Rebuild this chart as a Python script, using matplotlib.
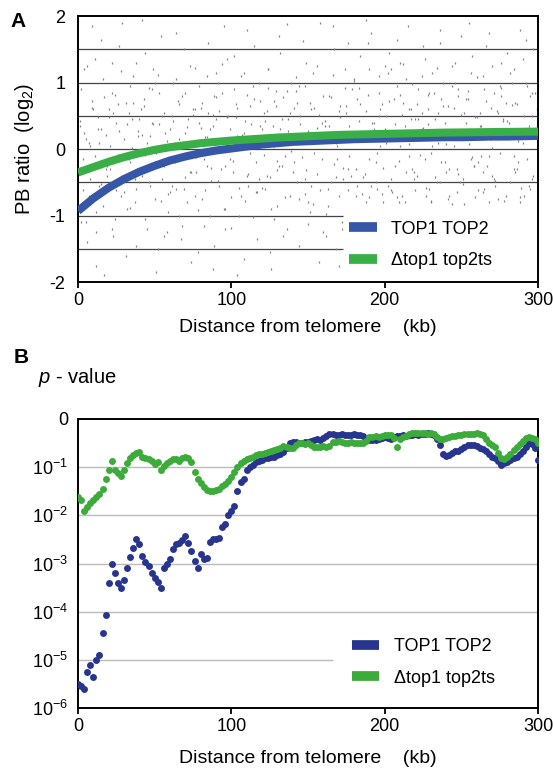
import numpy as np
import matplotlib
matplotlib.use("Agg")
import matplotlib.pyplot as plt
from matplotlib.lines import Line2D

plt.rcParams['font.family'] = ['Liberation Sans', 'DejaVu Sans']
plt.rcParams['mathtext.fontset'] = 'custom'
plt.rcParams['mathtext.rm'] = 'Liberation Sans'
plt.rcParams['mathtext.it'] = 'Liberation Sans:italic'
plt.rcParams['axes.unicode_minus'] = False

# ---- panel A data ----
curve_x = list(range(0, 301, 10))
curve_top1 = [-0.93, -0.74, -0.58, -0.45, -0.34, -0.25, -0.17, -0.11, -0.06, -0.02,
              0.01, 0.04, 0.07, 0.09, 0.11, 0.12, 0.13, 0.14, 0.15, 0.155,
              0.16, 0.165, 0.17, 0.175, 0.18, 0.18, 0.185, 0.19, 0.19, 0.195, 0.2]
curve_dtop1 = [-0.35, -0.27, -0.19, -0.12, -0.06, -0.01, 0.03, 0.06, 0.09, 0.11,
               0.13, 0.145, 0.16, 0.175, 0.185, 0.195, 0.205, 0.215, 0.22, 0.225,
               0.23, 0.235, 0.24, 0.245, 0.25, 0.252, 0.255, 0.258, 0.26, 0.262, 0.265]

# background probe ratios (grey dots), spread over the whole range
bg_x = [1, 3, 4, 6, 7, 9, 10, 12, 13, 15, 16, 18, 19, 2, 5, 8, 11, 14, 17, 20, 3, 9, 15, 12,
        21, 22, 24, 25, 27, 28, 30, 31, 33, 34, 36, 37, 39, 23, 26, 29, 32, 35, 38, 40, 22, 28, 34, 38,
        41, 42, 44, 45, 47, 48, 50, 51, 53, 54, 56, 57, 59, 43, 46, 49, 52, 55, 58, 60, 44, 50, 56, 42,
        61, 62, 64, 65, 67, 68, 70, 71, 73, 74, 76, 77, 79, 63, 66, 69, 72, 75, 78, 80, 64, 70, 76, 66,
        81, 82, 84, 85, 87, 88, 90, 91, 93, 94, 96, 97, 99, 83, 86, 89, 92, 95, 98, 100, 84, 90, 96, 88,
        101, 102, 104, 105, 107, 108, 110, 111, 113, 114, 116, 117, 119, 103, 106, 109, 112, 115, 118, 120, 104, 110, 116, 108,
        121, 122, 124, 125, 127, 128, 130, 131, 133, 134, 136, 137, 139, 123, 126, 129, 132, 135, 138, 140, 124, 130, 136, 128,
        141, 142, 144, 145, 147, 148, 150, 151, 153, 154, 156, 157, 159, 143, 146, 149, 152, 155, 158, 160, 144, 150, 156, 148,
        161, 162, 164, 165, 167, 168, 170, 171, 173, 174, 176, 177, 179, 163, 166, 169, 172, 175, 178, 180, 164, 170, 176, 168,
        181, 182, 184, 185, 187, 188, 190, 191, 193, 194, 196, 197, 199, 183, 186, 189, 192, 195, 198, 200, 184, 190, 196, 188,
        201, 202, 204, 205, 207, 208, 210, 211, 213, 214, 216, 217, 219, 203, 206, 209, 212, 215, 218, 220, 204, 210, 216, 208,
        221, 222, 224, 225, 227, 228, 230, 231, 233, 234, 236, 237, 239, 223, 226, 229, 232, 235, 238, 240, 224, 230, 236, 228,
        241, 242, 244, 245, 247, 248, 250, 251, 253, 254, 256, 257, 259, 243, 246, 249, 252, 255, 258, 260, 244, 250, 256, 248,
        261, 262, 264, 265, 267, 268, 270, 271, 273, 274, 276, 277, 279, 263, 266, 269, 272, 275, 278, 280, 264, 270, 276, 268,
        281, 282, 284, 285, 287, 288, 290, 291, 293, 294, 296, 297, 299, 283, 286, 289, 292, 295, 298, 300, 284, 290, 296, 288]
bg_y = [0.35, -0.62, 1.2, -1.4, 0.1, 0.72, -0.28, -1.75, 0.48, 1.65, -0.85, 0.22, -0.4, 0.9, -1.1, 0.05, 1.35, -0.55, -1.9, 0.6, -0.15, 1.85, 0.3, -1.25,
        -0.3, 0.85, -1.05, 0.4, 1.55, -0.7, 0.15, -1.6, 0.55, -0.2, 1.1, -0.45, 0.28, -1.3, 0.68, 1.9, -0.9, 0.02, -1.45, 0.45, 1.3, -0.12, 0.95, -0.6,
        0.6, -0.4, 1.45, -1.2, 0.2, 0.9, -0.75, -1.85, 0.38, 1.7, -0.25, 0.05, -0.95, 0.75, -0.5, 1.2, -1.5, 0.5, 0.12, -0.65, -0.08, 1.0, -1.3, 1.95,
        -0.55, 0.42, 1.75, -0.18, -1.35, 0.8, 0.25, -0.8, 1.25, -1.7, 0.6, -0.35, 0.95, 0.1, -1.0, 1.5, -0.1, 0.52, -1.55, 0.32, 1.05, -0.42, -0.7, 0.68,
        0.7, -1.15, 0.18, 1.6, -0.48, -1.8, 0.45, 1.0, -0.3, 0.85, -0.9, 1.35, -0.15, -0.62, 0.3, -1.45, 0.58, 1.85, 0.08, -0.72, -0.25, 1.15, -1.2, 0.52,
        -0.35, 1.4, 0.62, -1.0, 0.15, -1.65, 1.8, -0.55, 0.38, 0.95, -0.2, -1.35, 0.72, 0.48, 1.1, -0.78, -0.05, 1.55, -0.45, 0.3, -1.9, 0.82, -0.65, 0.25,
        0.55, -0.6, 1.2, -1.55, 0.35, 0.05, -0.85, 1.7, -0.25, 0.78, -1.2, 0.45, 1.0, -0.4, -1.8, 0.65, 1.45, -0.1, -0.7, 0.2, 0.92, -0.32, 1.88, -1.05,
        -0.2, 0.88, -1.45, 0.5, 1.62, -0.68, 0.28, -0.95, 1.15, 0.62, -0.38, -1.7, 0.4, 0.7, -0.12, 1.3, -0.55, 0.15, 1.9, -1.25, 0.95, -0.8, 0.32, -0.45,
        0.42, -1.3, 0.8, -0.5, 1.5, 0.1, -1.75, 0.65, -0.28, 1.2, -0.62, 0.35, 0.9, -0.85, 1.85, -0.15, -1.1, 0.55, -0.4, 1.05, 0.22, -0.7, 1.6, -1.5,
        -0.3, 0.75, 1.4, -0.68, 0.2, 0.58, -0.15, 1.75, 0.4, -0.5, 1.1, 0.05, -0.8, 0.92, -0.42, 1.6, 0.28, -0.6, 0.68, 1.25, 0.12, -0.72, 0.5, 1.95,
        0.5, -0.55, 1.2, 0.15, -0.25, 1.65, 0.82, -0.7, 0.35, 1.05, -0.1, 0.6, -0.45, 1.45, 0.25, -0.8, 0.7, 1.85, -0.3, 0.45, -0.62, 1.3, 0.08, 0.95,
        -0.4, 0.9, 0.3, 1.55, -0.7, 0.6, -0.05, 1.15, 0.45, -0.5, 1.8, 0.75, -0.2, 0.2, 1.35, -0.6, 0.85, 0.1, 1.0, -0.35, 0.55, -0.78, 1.6, 0.38,
        0.65, -0.3, 1.25, 0.05, -0.65, 0.9, 1.7, -0.45, 0.4, 0.75, -0.15, 1.4, -0.72, 0.25, 1.0, -0.5, 0.55, 1.9, -0.25, 0.48, -0.82, 0.15, 1.15, 0.8,
        -0.2, 0.55, 1.1, -0.6, 0.3, 1.75, -0.4, 0.85, 0.15, -0.75, 1.3, 0.45, 0.7, -0.1, 1.55, 0.62, -0.55, 0.95, 0.25, 1.45, -0.35, 0.02, 0.8, -0.8,
        0.4, -0.5, 1.2, 0.7, -0.2, 1.8, 0.1, -0.7, 0.95, 0.35, -0.45, 1.5, 0.6, 1.0, -0.3, 0.2, 1.65, -0.6, 0.85, 0.3, -0.1, 1.35, 0.5, -0.8]

# extra dots in the dense band around zero
band_x = list(range(1, 300, 2))
band_y = [0.42, -0.35, 0.15, -0.7, 0.62, -0.1, 0.3, -0.52, 0.78, -0.25,
          0.05, 0.55, -0.62, 0.28, -0.4, 0.7, -0.15, 0.45, -0.8, 0.2,
          -0.3, 0.65, 0.1, -0.55, 0.38, -0.05, 0.85, -0.45, 0.25, -0.68,
          0.5, -0.2, 0.72, 0.02, -0.6, 0.33, -0.35, 0.6, -0.12, 0.4,
          -0.75, 0.18, 0.55, -0.28, 0.8, -0.48, 0.12, -0.9, 0.48, 0.3,
          -0.18, 0.68, -0.58, 0.22, 0.42, -0.38, 0.08, 0.75, -0.65, 0.35,
          -0.08, 0.58, -0.42, 0.15, 0.88, -0.25, 0.45, -0.72, 0.28, -0.02,
          0.62, -0.5, 0.38, 0.12, -0.32, 0.7, -0.82, 0.2, 0.52, -0.15,
          0.35, -0.6, 0.78, -0.22, 0.05, 0.48, -0.45, 0.65, -0.1, 0.25,
          -0.7, 0.42, 0.15, -0.38, 0.82, -0.55, 0.3, -0.05, 0.6, -0.28,
          0.1, 0.72, -0.65, 0.38, -0.18, 0.52, -0.8, 0.22, 0.45, -0.35,
          0.68, -0.08, 0.32, -0.58, 0.85, 0.05, -0.42, 0.55, -0.2, 0.4,
          -0.75, 0.18, 0.62, -0.3, 0.28, -0.52, 0.75, 0.08, -0.12, 0.48,
          -0.62, 0.35, 0.9, -0.25, 0.15, -0.45, 0.58, -0.05, 0.42, -0.7,
          0.25, 0.66, -0.35, 0.12, -0.58, 0.5, -0.15, 0.8, -0.4, 0.3]
band2_x = list(range(0, 300, 2))
band2_y = [0.95, -1.1, 0.25, 1.25, -0.45, 0.6, -0.95, 0.1, 1.05, -0.3,
           0.48, -1.2, 0.82, -0.08, 1.18, -0.65, 0.38, -0.88, 0.7, 1.3,
           -0.5, 0.22, -1.05, 0.92, 0.4, -0.2, 1.12, -0.78, 0.55, -1.25,
           0.3, 1.0, -0.6, 0.15, -1.15, 0.85, 0.45, -0.35, 1.22, -0.92,
           0.62, -0.15, 1.1, -1.0, 0.35, 0.78, -0.55, 1.28, -0.25, 0.5,
           -1.18, 0.9, 0.2, -0.7, 1.15, -0.4, 0.65, -1.02, 0.05, 1.0,
           -0.58, 0.42, 1.2, -0.9, 0.72, -0.18, 0.3, -1.3, 0.88, 0.55,
           -0.35, 1.08, -0.75, 0.18, 0.95, -1.12, 0.6, -0.05, 1.25, -0.62,
           0.8, -0.98, 0.35, 1.12, -0.42, 0.58, -1.2, 0.92, -0.3, 0.25,
           1.02, -0.55, 0.68, 0.12, -0.8, 1.2, 0.4, -0.2, 0.85, -0.68,
           0.3, 1.15, -0.45, 0.75, -0.72, 0.05, 1.28, -0.35, 0.6, 0.98,
           -0.62, 0.45, 1.1, -0.15, 0.82, -0.8, 0.28, 1.22, -0.5, 0.65,
           0.08, -0.7, 0.95, 1.3, -0.38, 0.52, -0.82, 0.88, 0.2, -0.25,
           1.08, 0.35, -0.65, 0.72, -0.1, 1.25, -0.48, 0.55, 0.92, -0.78,
           0.42, 1.15, -0.3, 0.68, -0.72, 0.18, 1.0, -0.55, 0.85, 0.3]

grid_a = [1.5, 1.0, 0.5, 0.0, -0.5]
grid_a_short = [-1.0, -1.5]

# ---- panel B data (log10 p-value) ----
dist_b = list(range(0, 301, 2))
logp_top1 = [-5.5, -5.55, -5.6, -5.25, -5.1, -5.35, -5.0, -4.9, -4.45, -4.07,
             -3.4, -3.0, -3.2, -3.4, -3.5, -3.35, -3.1, -2.86, -2.68, -2.5,
             -2.6, -2.85, -2.97, -3.05, -3.2, -3.3, -3.38, -3.5, -3.1, -3.0,
             -2.9, -2.7, -2.6, -2.57, -2.52, -2.42, -2.58, -2.75, -2.95, -3.1,
             -2.8, -2.9, -2.88, -2.55, -2.5, -2.5, -2.47, -2.25, -2.18, -2.0,
             -1.92, -1.8, -1.5, -1.3, -1.25, -1.06, -1.0, -0.95, -0.9, -0.88,
             -0.85, -0.82, -0.8, -0.78, -0.78, -0.75, -0.72, -0.68, -0.6, -0.5,
             -0.47, -0.47, -0.5, -0.5, -0.48, -0.47, -0.45, -0.44, -0.42, -0.43,
             -0.4, -0.36, -0.32, -0.32, -0.33, -0.33, -0.32, -0.33, -0.34, -0.33,
             -0.32, -0.33, -0.34, -0.36, -0.42, -0.44, -0.43, -0.44, -0.42, -0.4,
             -0.38, -0.4, -0.42, -0.38, -0.36, -0.35, -0.34, -0.35, -0.33, -0.33,
             -0.32, -0.33, -0.31, -0.32, -0.3, -0.31, -0.33, -0.42, -0.55, -0.72,
             -0.76, -0.74, -0.7, -0.67, -0.66, -0.63, -0.58, -0.55, -0.54, -0.55,
             -0.56, -0.6, -0.62, -0.66, -0.72, -0.78, -0.8, -0.88, -0.96, -0.92,
             -0.9, -0.85, -0.82, -0.78, -0.72, -0.66, -0.58, -0.5, -0.52, -0.6,
             -0.85]
logp_dtop1 = [-1.62, -1.68, -1.9, -1.82, -1.75, -1.68, -1.62, -1.55, -1.45, -1.25,
              -1.05, -0.88, -1.05, -1.12, -1.18, -1.05, -0.92, -0.82, -0.75, -0.7,
              -0.68, -0.78, -0.8, -0.83, -0.88, -0.94, -0.9, -1.05, -0.98, -0.92,
              -0.88, -0.84, -0.83, -0.88, -0.82, -0.78, -0.8, -0.9, -1.1, -1.25,
              -1.32, -1.42, -1.48, -1.5, -1.5, -1.48, -1.45, -1.4, -1.36, -1.28,
              -1.2, -1.1, -1.0, -0.92, -0.88, -0.84, -0.82, -0.78, -0.75, -0.73,
              -0.72, -0.7, -0.68, -0.67, -0.65, -0.62, -0.6, -0.57, -0.58, -0.6,
              -0.6, -0.55, -0.5, -0.5, -0.52, -0.5, -0.55, -0.58, -0.58, -0.58,
              -0.57, -0.58, -0.56, -0.48, -0.47, -0.46, -0.47, -0.5, -0.5, -0.48,
              -0.5, -0.49, -0.5, -0.5, -0.46, -0.38, -0.37, -0.36, -0.37, -0.36,
              -0.34, -0.33, -0.34, -0.4, -0.58, -0.42, -0.38, -0.36, -0.32, -0.3,
              -0.3, -0.3, -0.3, -0.3, -0.31, -0.3, -0.32, -0.38, -0.42, -0.42,
              -0.4, -0.38, -0.36, -0.35, -0.34, -0.33, -0.32, -0.31, -0.31, -0.31,
              -0.3, -0.31, -0.34, -0.42, -0.5, -0.55, -0.58, -0.7, -0.8, -0.84,
              -0.78, -0.72, -0.65, -0.58, -0.52, -0.46, -0.4, -0.38, -0.4, -0.42,
              -0.5]

grid_b = [1e-1, 1e-2, 1e-3, 1e-4]
grid_b_short = [1e-5]
ytick_b = [1, 1e-1, 1e-2, 1e-3, 1e-4, 1e-5, 1e-6]
ytick_b_labels = ['0', '$10^{-1}$', '$10^{-2}$', '$10^{-3}$', '$10^{-4}$', '$10^{-5}$', '$10^{-6}$']

labels = ['TOP1 TOP2', '\u0394top1 top2ts']
blue_a, green_a = '#3656a8', '#3aae47'
blue_b, green_b = '#27358f', '#3cab3a'
xlabel_txt = 'Distance from telomere    (kb)'

fig = plt.figure(figsize=(5.53, 7.73), dpi=100)

# ================= panel A =================
axA = fig.add_axes([0.141, 0.635, 0.832, 0.344])
for g in grid_a:
    axA.axhline(g, color='#444444', lw=0.9, zorder=1)
axA.hlines(grid_a_short, 0, 173, color='#444444', lw=0.9, zorder=1)
for xs, ys in [(bg_x, bg_y), (band_x, band_y), (band2_x, band2_y)]:
    axA.plot(xs, ys, '|', color='#808080', ms=2.0, mew=0.9, zorder=2)
axA.plot(curve_x, curve_top1, color=blue_a, lw=5.8, solid_capstyle='butt', zorder=3)
axA.plot(curve_x, curve_dtop1, color=green_a, lw=5.8, solid_capstyle='butt', zorder=3)
axA.set_xlim(0, 300)
axA.set_ylim(-2, 2)
axA.set_xticks([0, 100, 200, 300])
axA.set_yticks([-2, -1, 0, 1, 2])
axA.tick_params(axis='x', direction='out', length=4, width=1.3, pad=3, labelsize=13)
axA.tick_params(axis='y', length=0, pad=9, labelsize=13)
for s in axA.spines.values():
    s.set_linewidth(1.4)
axA.set_xlabel(xlabel_txt, fontsize=14, labelpad=7)
axA.set_ylabel('PB ratio  (log$_2$)', fontsize=14.5, labelpad=10)
hA = [Line2D([], [], color=blue_a, lw=7, solid_capstyle='butt'),
      Line2D([], [], color=green_a, lw=7, solid_capstyle='butt')]
axA.legend(hA, labels, loc='center left', bbox_to_anchor=(0.59, 0.14), frameon=False,
           fontsize=13, handlelength=1.5, handletextpad=0.8, labelspacing=0.8,
           borderpad=0, borderaxespad=0)

# ================= panel B =================
axB = fig.add_axes([0.141, 0.084, 0.832, 0.374])
axB.set_yscale('log')
axB.hlines(grid_b, 0, 300, color='#bbbbbb', lw=1.0, zorder=1)
axB.hlines(grid_b_short, 0, 166, color='#bbbbbb', lw=1.0, zorder=1)
axB.plot(dist_b, 10 ** np.array(logp_top1), 'o', color=blue_b, ms=5.0, mew=0, zorder=3)
axB.plot(dist_b, 10 ** np.array(logp_dtop1), 'o', color=green_b, ms=5.0, mew=0, zorder=3)
axB.set_xlim(0, 300)
axB.set_ylim(1e-6, 1)
axB.set_xticks([0, 100, 200, 300])
axB.set_yticks(ytick_b)
axB.set_yticklabels(ytick_b_labels)
axB.yaxis.set_minor_locator(matplotlib.ticker.NullLocator())
axB.tick_params(axis='x', direction='out', length=4, width=1.3, pad=3, labelsize=13)
axB.tick_params(axis='y', length=0, pad=7, labelsize=13)
for s in axB.spines.values():
    s.set_linewidth(1.4)
axB.set_xlabel(xlabel_txt, fontsize=14, labelpad=11)
hB = [Line2D([], [], color=blue_b, lw=7, solid_capstyle='butt'),
      Line2D([], [], color=green_b, lw=7, solid_capstyle='butt')]
axB.legend(hB, labels, loc='center left', bbox_to_anchor=(0.596, 0.158), frameon=False,
           fontsize=13, handlelength=1.5, handletextpad=0.8, labelspacing=0.8,
           borderpad=0, borderaxespad=0)

fig.text(0.033, 0.972, 'A', fontsize=15, fontweight='bold', va='center', ha='center')
fig.text(0.038, 0.538, 'B', fontsize=15, fontweight='bold', va='center', ha='center')
fig.text(0.069, 0.511, '$p$ - value', fontsize=14.5, va='center', ha='left')

fig.savefig('out.png', dpi=100)
